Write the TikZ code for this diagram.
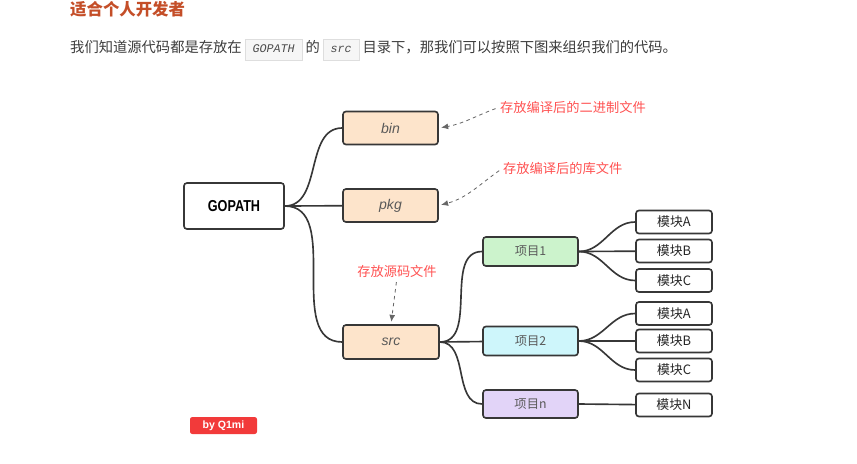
\documentclass[tikz,border=0pt]{standalone}
\usepackage{fontspec}
\usepackage{graphicx}
\usepackage{xcolor}
\setmainfont{Noto Sans CJK SC}
\newfontfamily\latinsans{Liberation Sans}
\setmonofont{Liberation Mono}
\usetikzlibrary{arrows.meta}

\definecolor{titlered}{RGB}{196,78,40}
\definecolor{textgray}{RGB}{60,60,60}
\definecolor{notered}{RGB}{255,82,82}
\definecolor{peach}{RGB}{253,228,203}
\definecolor{lightgreen}{RGB}{204,243,204}
\definecolor{lightcyan}{RGB}{206,246,251}
\definecolor{lightpurple}{RGB}{226,212,248}
\definecolor{edgegray}{RGB}{55,55,55}
\definecolor{codebg}{RGB}{246,246,246}
\definecolor{codeline}{RGB}{222,222,222}
\definecolor{badgered}{RGB}{242,58,58}

\newcommand{\codebox}[1]{{\setlength{\fboxsep}{3pt}\setlength{\fboxrule}{0.5pt}%
  \fcolorbox{codeline}{codebg}{\hspace{3pt}\ttfamily\itshape\fontsize{10}{11.5}\selectfont\strut\textcolor{black!70}{#1}\hspace{3pt}}}}

\begin{document}
\begin{tikzpicture}
  [x=0.03cm, y=-0.03cm,
   box/.style={draw=edgegray, line width=1.4pt, rounded corners=2.5pt, inner sep=0},
   dirbox/.style={box, fill=peach, minimum width=2.85cm, minimum height=0.99cm,
     font=\latinsans\itshape\fontsize{12}{14}\selectfont, text=black!65},
   projbox/.style={box, minimum width=2.85cm, minimum height=0.87cm,
     font=\fontsize{10.5}{12}\selectfont, text=black!65},
   modbox/.style={box, fill=white, minimum width=2.28cm, minimum height=0.69cm,
     font=\fontsize{11}{13}\selectfont, text=black!85},
   note/.style={text=notered, font=\fontsize{11.3}{13}\selectfont, inner sep=0},
   link/.style={draw=edgegray, line width=1.4pt},
   hint/.style={draw=black!60, dashed, line width=0.7pt, shorten <=4pt, shorten >=2pt,
     -{Latex[length=6pt,width=5pt]}}]
  \useasboundingbox (0,0) rectangle (857,463);

  \node[anchor=west, text=titlered, font=\bfseries\fontsize{14}{16}\selectfont, inner sep=0]
    (title) at (70,9.5) {适合个人开发者};
  \node[anchor=west, text=textgray, font=\fontsize{12.2}{14}\selectfont, inner sep=0]
    (intro) at (70,50) {我们知道源代码都是存放在\ \codebox{GOPATH}\ 的\ \codebox{src}\ 目录下，那我们可以按照下图来组织我们的代码。};

  \node[box, fill=white, minimum width=3cm, minimum height=1.38cm] (gopath) at (234,206)
    {\latinsans\bfseries\fontsize{13.5}{15}\selectfont\scalebox{0.8}[1]{GOPATH}};

  \node[dirbox] (bin) at (390.5,128) {bin} edge[link, out=180, in=0] (gopath.east);
  \node[dirbox] (pkg) at (390.5,205.5) {pkg} edge[link] (gopath.east);
  \node[dirbox, minimum width=2.88cm, minimum height=1.02cm] (src) at (391,342) {src}
    edge[link, out=180, in=0] (gopath.east);

  \node[projbox, fill=lightgreen] (proj1) at (530.5,251.5) {项目1} edge[link, out=180, in=0] (src.east);
  \node[projbox, fill=lightcyan] (proj2) at (530.5,341) {项目2} edge[link] (src.east);
  \node[projbox, fill=lightpurple, minimum height=0.84cm] (projn) at (530.5,404) {项目n}
    edge[link, out=180, in=0] (src.east);

  \node[modbox] (m1a) at (674,222) {模块A} edge[link, out=180, in=0] (proj1.east);
  \node[modbox] (m1b) at (674,251) {模块B} edge[link] (proj1.east);
  \node[modbox] (m1c) at (674,280.5) {模块C} edge[link, out=180, in=0] (proj1.east);
  \node[modbox] (m2a) at (674,313.5) {模块A} edge[link, out=180, in=0] (proj2.east);
  \node[modbox] (m2b) at (674,341) {模块B} edge[link] (proj2.east);
  \node[modbox] (m2c) at (674,370) {模块C} edge[link, out=180, in=0] (proj2.east);
  \node[modbox] (mnn) at (674,405) {模块N} edge[link] (projn.east);

  % notes
  \node[note, anchor=west] (binnote) at (500,107) {存放编译后的二进制文件};
  \node[note, anchor=west] (pkgnote) at (503,168) {存放编译后的库文件};
  \node[note] (srcnote) at (397,271) {存放源码文件};
  \draw[hint] (binnote.west) to[out=200, in=10] (bin.east);
  \draw[hint] (pkgnote.west) to[out=215, in=15] (pkg.east);
  \draw[hint] (srcnote.south) -- (src.north);

  \node[fill=badgered, rounded corners=2pt, text=white, inner sep=0,
    font=\latinsans\bfseries\fontsize{9}{10}\selectfont,
    minimum width=2.01cm, minimum height=0.51cm] (badge) at (223.5,425.5) {by Q1mi};
\end{tikzpicture}
\end{document}
